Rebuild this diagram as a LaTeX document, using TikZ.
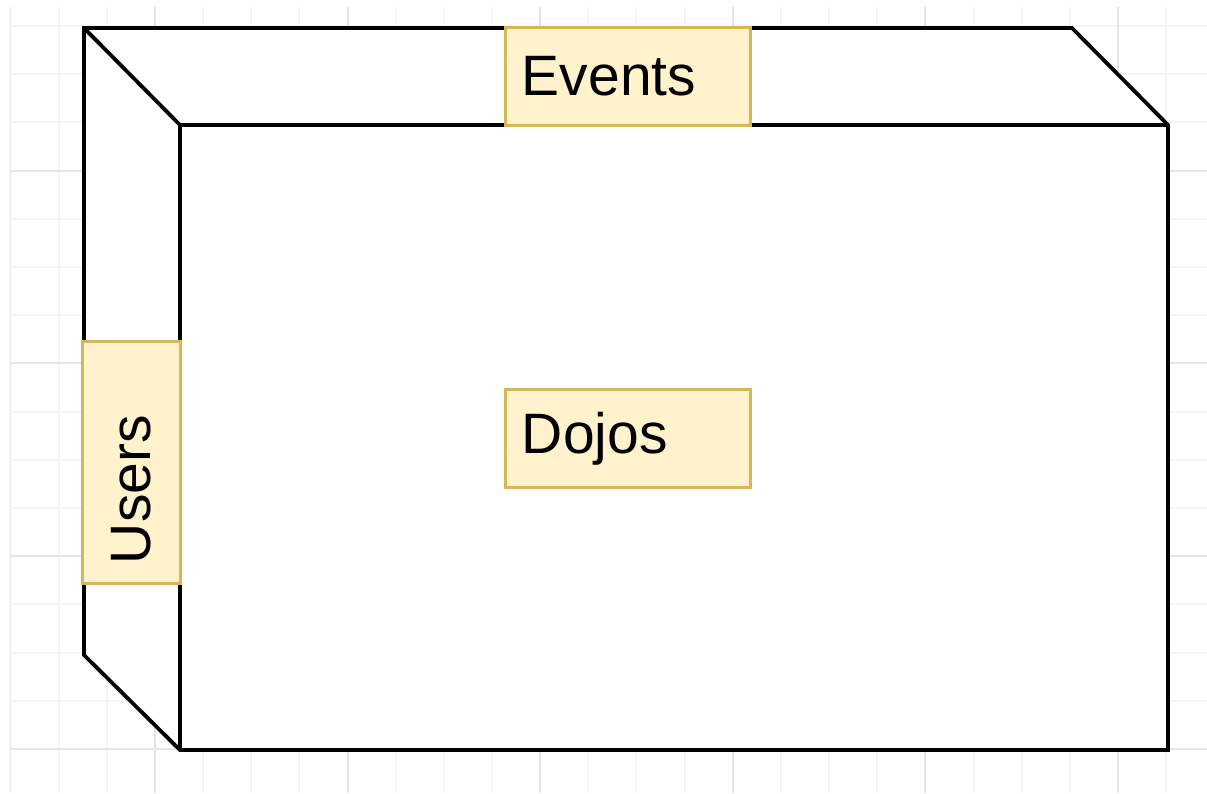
\documentclass[tikz,border=0pt]{standalone}
\usepackage{fontspec}
\setmainfont{Liberation Sans}
\definecolor{gridminor}{HTML}{F4F4F4}
\definecolor{gridmajor}{HTML}{E5E5E5}
\definecolor{storefill}{HTML}{FFF2CC}
\definecolor{storeline}{HTML}{D6B656}
\tikzset{
  store/.style={draw=storeline, fill=storefill, line width=0.03cm, minimum height=0.97cm,
    inner xsep=0.16cm, text width=2.12cm, align=left, font=\fontsize{16.2}{19}\selectfont},
  edge/.style={line width=0.038cm, line join=miter}
}

\begin{document}
\begin{tikzpicture}[x=0.01cm,y=-0.01cm]
  \useasboundingbox (0,0) rectangle (1207,793);
  % background grid
  \foreach \i in {0,...,24} \draw[gridminor, line width=0.02cm] ({10.5+48.15*\i},7) -- ++(0,786);
  \foreach \j in {0,...,15} \draw[gridminor, line width=0.02cm] (10,{26+48.2*\j}) -- (1207,{26+48.2*\j});
  \foreach \i in {3,7,...,23} \draw[gridmajor, line width=0.02cm] ({10.5+48.15*\i},7) -- ++(0,786);
  \foreach \j in {3,7,...,15} \draw[gridmajor, line width=0.02cm] (10,{26+48.2*\j}) -- (1207,{26+48.2*\j});

  % the box
  \coordinate (bnw) at (84,28);   \coordinate (bne) at (1072,28);
  \coordinate (bsw) at (84,655);
  \coordinate (fnw) at (180,125); \coordinate (fne) at (1168,125);
  \coordinate (fsw) at (180,750); \coordinate (fse) at (1168,750);
  \filldraw[edge, fill=white] (bnw) -- (bne) -- (fne) -- (fse) -- (fsw) -- (bsw) -- cycle;
  \draw[edge] (bnw) -- (fnw) -- (fne) (fnw) -- (fsw);

  \node[store] (events) at (628,76.5) {Events};
  \node[store] (dojos) at (628,438.5) {Dojos};
  \node[store, rotate=90, text width=2.03cm, inner xsep=0.19cm] (users) at (131.5,462.5) {Users};
\end{tikzpicture}
\end{document}
